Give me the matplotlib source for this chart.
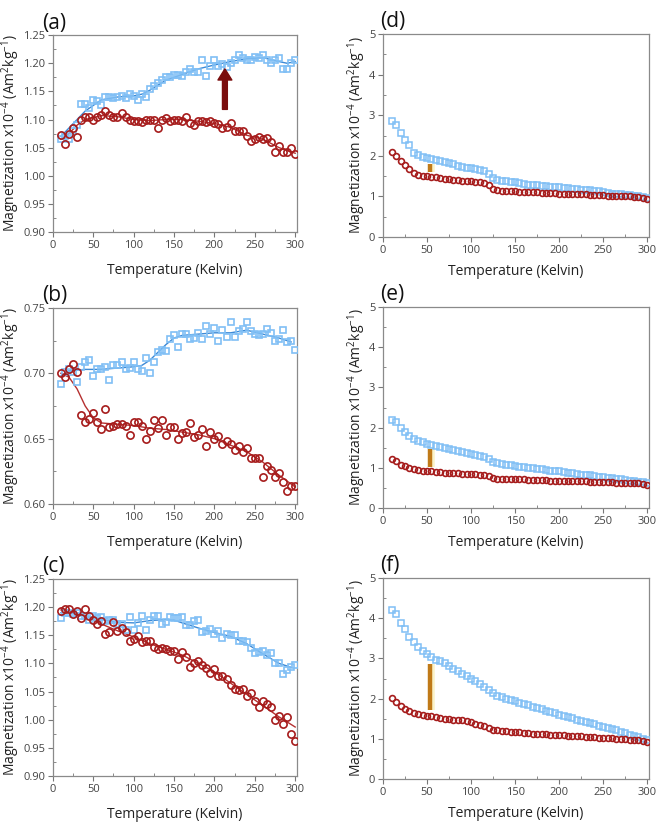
import matplotlib
matplotlib.use("Agg")
import matplotlib.pyplot as plt
from matplotlib.ticker import MultipleLocator

plt.rcParams['font.family'] = ['Open Sans', 'DejaVu Sans']
plt.rcParams['mathtext.fontset'] = 'custom'
plt.rcParams['mathtext.rm'] = 'Open Sans'
plt.rcParams['mathtext.it'] = 'Open Sans'

temps = list(range(10, 305, 5))

# ---- panel (a)
a_sq = [1.065, 1.07, 1.065, 1.08, 1.09, 1.128, 1.128, 1.12, 1.135, 1.133, 1.125, 1.14, 1.14, 1.138, 1.14,
        1.142, 1.138, 1.145, 1.142, 1.135, 1.145, 1.14, 1.155, 1.16, 1.165, 1.17, 1.175, 1.175, 1.18, 1.18,
        1.178, 1.185, 1.19, 1.185, 1.185, 1.205, 1.178, 1.195, 1.205, 1.195, 1.198, 1.193, 1.2, 1.205, 1.215,
        1.21, 1.205, 1.205, 1.212, 1.21, 1.215, 1.205, 1.2, 1.205, 1.21, 1.19, 1.19, 1.2, 1.205]
a_ci = [1.072, 1.057, 1.075, 1.085, 1.068, 1.1, 1.105, 1.105, 1.1, 1.105, 1.108, 1.115, 1.108, 1.105, 1.105,
        1.112, 1.105, 1.1, 1.098, 1.098, 1.095, 1.1, 1.1, 1.1, 1.085, 1.1, 1.102, 1.097, 1.1, 1.1,
        1.098, 1.105, 1.093, 1.09, 1.098, 1.097, 1.095, 1.098, 1.093, 1.092, 1.085, 1.087, 1.093, 1.08, 1.08,
        1.08, 1.07, 1.062, 1.065, 1.068, 1.065, 1.067, 1.06, 1.043, 1.052, 1.043, 1.043, 1.05, 1.038]
a_fit_t_sq = [10, 20, 30, 40, 50, 60, 80, 100, 110, 120, 140, 160, 180, 200, 220, 240, 260, 280, 290, 300]
a_fit_sq = [1.07, 1.085, 1.1, 1.115, 1.125, 1.135, 1.14, 1.142, 1.145, 1.152, 1.17, 1.18, 1.19, 1.197,
            1.203, 1.208, 1.21, 1.203, 1.2, 1.203]
a_fit_t_ci = [10, 20, 30, 40, 60, 80, 100, 120, 140, 160, 180, 200, 220, 240, 260, 280, 300]
a_fit_ci = [1.065, 1.075, 1.09, 1.1, 1.107, 1.105, 1.1, 1.098, 1.1, 1.1, 1.097, 1.093, 1.086, 1.072,
            1.065, 1.05, 1.04]

# ---- panel (b)
b_sq = [0.692, 0.701, 0.703, 0.701, 0.693, 0.705, 0.709, 0.71, 0.698, 0.703, 0.703, 0.705, 0.695, 0.706, 0.706,
        0.709, 0.703, 0.704, 0.709, 0.703, 0.702, 0.712, 0.7, 0.709, 0.716, 0.718, 0.717, 0.726, 0.729, 0.72,
        0.73, 0.73, 0.726, 0.727, 0.731, 0.726, 0.736, 0.73, 0.735, 0.725, 0.733, 0.728, 0.739, 0.728, 0.732,
        0.734, 0.739, 0.732, 0.73, 0.729, 0.73, 0.734, 0.731, 0.725, 0.726, 0.733, 0.724, 0.725, 0.718]
b_ci = [0.7, 0.697, 0.703, 0.707, 0.701, 0.668, 0.663, 0.665, 0.67, 0.663, 0.657, 0.673, 0.659, 0.66, 0.661,
        0.661, 0.66, 0.653, 0.663, 0.663, 0.66, 0.65, 0.656, 0.664, 0.658, 0.664, 0.653, 0.659, 0.659, 0.65,
        0.654, 0.655, 0.662, 0.651, 0.653, 0.657, 0.644, 0.655, 0.65, 0.652, 0.646, 0.648, 0.646, 0.641, 0.644,
        0.64, 0.643, 0.635, 0.635, 0.635, 0.621, 0.629, 0.626, 0.621, 0.624, 0.617, 0.61, 0.614, 0.614]
b_fit_t_sq = [10, 20, 40, 60, 80, 100, 110, 120, 130, 140, 150, 160, 180, 200, 220, 240, 260, 280, 295]
b_fit_sq = [0.698, 0.702, 0.703, 0.703, 0.704, 0.705, 0.706, 0.71, 0.716, 0.722, 0.727, 0.729, 0.73,
            0.731, 0.731, 0.733, 0.73, 0.727, 0.724]
b_fit_t_ci = [10, 20, 30, 40, 50, 60, 80, 100, 120, 140, 160, 180, 200, 220, 240, 260, 280, 300]
b_fit_ci = [0.7, 0.697, 0.688, 0.675, 0.666, 0.662, 0.661, 0.66, 0.658, 0.657, 0.655, 0.653, 0.65,
            0.645, 0.64, 0.632, 0.622, 0.613]

# ---- panel (c)
c_sq = [1.18, 1.19, 1.19, 1.188, 1.19, 1.185, 1.185, 1.178, 1.185, 1.18, 1.183, 1.175, 1.178, 1.178, 1.17,
        1.17, 1.16, 1.183, 1.16, 1.172, 1.185, 1.16, 1.178, 1.185, 1.185, 1.17, 1.173, 1.183, 1.18, 1.18,
        1.183, 1.168, 1.168, 1.175, 1.178, 1.155, 1.157, 1.162, 1.152, 1.157, 1.145, 1.153, 1.15, 1.15, 1.14,
        1.14, 1.138, 1.128, 1.118, 1.12, 1.122, 1.115, 1.118, 1.1, 1.1, 1.082, 1.088, 1.093, 1.098]
c_ci = [1.193, 1.197, 1.197, 1.188, 1.193, 1.18, 1.197, 1.185, 1.178, 1.17, 1.175, 1.153, 1.155, 1.173, 1.158,
        1.163, 1.155, 1.14, 1.143, 1.148, 1.138, 1.14, 1.14, 1.13, 1.125, 1.128, 1.125, 1.122, 1.122, 1.108,
        1.12, 1.112, 1.093, 1.1, 1.105, 1.098, 1.092, 1.083, 1.09, 1.077, 1.077, 1.073, 1.062, 1.055, 1.052,
        1.055, 1.042, 1.048, 1.033, 1.023, 1.033, 1.027, 1.023, 1.0, 1.007, 0.992, 1.005, 0.975, 0.963]
c_fit_t_sq = [10, 20, 40, 60, 80, 100, 120, 140, 150, 160, 180, 200, 220, 240, 260, 280, 295]
c_fit_sq = [1.19, 1.19, 1.185, 1.178, 1.173, 1.172, 1.176, 1.178, 1.177, 1.172, 1.163, 1.155, 1.148,
            1.135, 1.117, 1.1, 1.093]
c_fit_t_ci = [10, 20, 40, 60, 80, 100, 120, 140, 160, 180, 200, 220, 240, 260, 280, 300]
c_fit_ci = [1.195, 1.193, 1.185, 1.17, 1.158, 1.147, 1.135, 1.125, 1.115, 1.1, 1.085, 1.065, 1.045,
            1.025, 1.005, 0.987]

# ---- panel (d)
d_sq = [2.85, 2.75, 2.55, 2.38, 2.27, 2.08, 2.02, 1.98, 1.94, 1.92, 1.90, 1.88, 1.85, 1.82, 1.79,
        1.76, 1.73, 1.71, 1.69, 1.67, 1.65, 1.62, 1.55, 1.45, 1.40, 1.38, 1.37, 1.36, 1.35, 1.33,
        1.31, 1.29, 1.28, 1.27, 1.26, 1.25, 1.24, 1.23, 1.22, 1.21, 1.20, 1.19, 1.18, 1.17, 1.16,
        1.15, 1.14, 1.13, 1.10, 1.08, 1.07, 1.06, 1.05, 1.04, 1.03, 1.02, 1.00, 0.98, 0.97]
d_ci = [2.10, 2.00, 1.87, 1.77, 1.67, 1.57, 1.52, 1.51, 1.50, 1.49, 1.47, 1.45, 1.43, 1.42, 1.41,
        1.40, 1.39, 1.38, 1.37, 1.36, 1.36, 1.33, 1.27, 1.19, 1.15, 1.14, 1.14, 1.13, 1.13, 1.12,
        1.12, 1.11, 1.10, 1.10, 1.09, 1.09, 1.08, 1.08, 1.07, 1.07, 1.06, 1.06, 1.05, 1.05, 1.05,
        1.04, 1.04, 1.03, 1.03, 1.02, 1.02, 1.01, 1.01, 1.00, 1.00, 0.99, 0.98, 0.97, 0.94]
d_bar = [1.61, 1.80]

# ---- panel (e)
e_sq = [2.20, 2.15, 2.00, 1.90, 1.80, 1.72, 1.67, 1.63, 1.60, 1.57, 1.55, 1.52, 1.50, 1.47, 1.44,
        1.42, 1.40, 1.38, 1.35, 1.32, 1.29, 1.27, 1.22, 1.15, 1.12, 1.10, 1.08, 1.06, 1.05, 1.03,
        1.02, 1.00, 0.99, 0.97, 0.96, 0.95, 0.93, 0.92, 0.91, 0.89, 0.88, 0.86, 0.85, 0.83, 0.82,
        0.81, 0.79, 0.78, 0.77, 0.75, 0.74, 0.72, 0.71, 0.69, 0.68, 0.66, 0.65, 0.64, 0.62]
e_ci = [1.22, 1.17, 1.08, 1.04, 1.00, 0.96, 0.94, 0.93, 0.92, 0.91, 0.90, 0.89, 0.88, 0.87, 0.86,
        0.86, 0.85, 0.85, 0.84, 0.84, 0.83, 0.82, 0.79, 0.75, 0.73, 0.73, 0.72, 0.72, 0.72, 0.71,
        0.71, 0.70, 0.70, 0.69, 0.69, 0.69, 0.68, 0.68, 0.68, 0.67, 0.67, 0.67, 0.66, 0.66, 0.66,
        0.65, 0.65, 0.65, 0.64, 0.64, 0.64, 0.63, 0.63, 0.62, 0.62, 0.61, 0.61, 0.60, 0.58]
e_bar = [1.02, 1.48]

# ---- panel (f)
f_sq = [4.20, 4.10, 3.88, 3.72, 3.52, 3.40, 3.28, 3.18, 3.10, 3.04, 2.97, 2.93, 2.88, 2.80, 2.74,
        2.68, 2.62, 2.57, 2.50, 2.44, 2.37, 2.30, 2.22, 2.15, 2.07, 2.03, 1.99, 1.96, 1.93, 1.90,
        1.86, 1.83, 1.80, 1.77, 1.73, 1.70, 1.67, 1.63, 1.60, 1.57, 1.54, 1.51, 1.48, 1.45, 1.42,
        1.39, 1.36, 1.33, 1.30, 1.27, 1.24, 1.21, 1.18, 1.14, 1.10, 1.07, 1.04, 1.00, 0.97]
f_ci = [2.02, 1.92, 1.82, 1.73, 1.68, 1.64, 1.61, 1.59, 1.58, 1.57, 1.55, 1.52, 1.50, 1.49, 1.48,
        1.47, 1.46, 1.45, 1.42, 1.38, 1.35, 1.33, 1.28, 1.22, 1.21, 1.20, 1.19, 1.18, 1.17, 1.16,
        1.15, 1.14, 1.13, 1.13, 1.12, 1.11, 1.10, 1.10, 1.09, 1.09, 1.08, 1.07, 1.07, 1.06, 1.05,
        1.05, 1.04, 1.03, 1.03, 1.02, 1.01, 1.00, 1.00, 0.99, 0.98, 0.97, 0.96, 0.94, 0.92]
f_bar = [1.72, 2.85]

bar_t = 53

SQ_COL = '#80bff5'
CI_COL = '#a61c1c'
SQ_LINE = '#3d8ad6'
CI_LINE = '#b53030'
BAR_COL = '#c07a18'
YLABEL = 'Magnetization x10$^{-4}$ (Am$^{2}$kg$^{-1}$)'

fig = plt.figure(figsize=(6.61, 8.27), dpi=100)


def style_axes(ax, ylim, ymaj, ymin, ydec, ylab_x, xpad):
    ax.set_xlim(0, 302)
    ax.set_ylim(*ylim)
    ax.xaxis.set_major_locator(MultipleLocator(50))
    ax.xaxis.set_minor_locator(MultipleLocator(25))
    ax.yaxis.set_major_locator(MultipleLocator(ymaj))
    ax.yaxis.set_minor_locator(MultipleLocator(ymin))
    ax.yaxis.set_major_formatter(plt.FuncFormatter(lambda v, p: f'{v:.{ydec}f}'))
    for s in ax.spines.values():
        s.set_color('#8a8a8a')
        s.set_linewidth(0.9)
    ax.tick_params(which='both', top=False, right=False,
                   color='#777777', labelcolor='#444444', labelsize=8, pad=2)
    ax.tick_params(which='major', direction='out', length=3.5)
    ax.tick_params(which='minor', direction='in', length=2)
    ax.set_xlabel('Temperature (Kelvin)', fontsize=10, color='#222222', labelpad=xpad)
    ax.set_ylabel(YLABEL, fontsize=10, color='#222222')
    # label coords give the right edge of the rotated text
    ax.yaxis.set_label_coords(ylab_x, 0.5)


def left_panel(rect, label, sq, ci, ft_sq, fsq, ft_ci, fci, ylim, ymaj, ymin):
    ax = fig.add_axes(rect)
    ax.plot(ft_sq, fsq, color=SQ_LINE, lw=1.0, zorder=2)
    ax.plot(ft_ci, fci, color=CI_LINE, lw=1.0, zorder=2)
    ax.plot(temps, sq, ls='none', marker='s', ms=4.8, mfc='none', mec=SQ_COL, mew=1.2, zorder=3)
    ax.plot(temps, ci, ls='none', marker='o', ms=5.2, mfc='none', mec=CI_COL, mew=1.2, zorder=3)
    style_axes(ax, ylim, ymaj, ymin, 2, -0.125, 9)
    fig.text(rect[0] - 0.016, rect[1] + rect[3] + 0.008, label, fontsize=15, color='#111111')
    return ax


def right_panel(rect, label, sq, ci, bar):
    ax = fig.add_axes(rect)
    ax.plot([bar_t + 3, bar_t + 3], bar, color='#fbf3c8', lw=4, solid_capstyle='butt', zorder=1)
    ax.plot([bar_t, bar_t], bar, color=BAR_COL, lw=3.2, solid_capstyle='butt', zorder=2)
    ax.plot(temps, sq, ls='none', marker='s', ms=3.8, mfc='none', mec=SQ_COL, mew=1.1, zorder=3)
    ax.plot(temps, ci, ls='none', marker='o', ms=4.2, mfc='none', mec=CI_COL, mew=1.2, zorder=3)
    style_axes(ax, (0, 5), 1, 0.5, 0, -0.055, 6)
    fig.text(rect[0] - 0.005, rect[1] + rect[3] + 0.008, label, fontsize=15, color='#111111')
    return ax


ax_a = left_panel([0.080, 0.7195, 0.369, 0.238], '(a)', a_sq, a_ci, a_fit_t_sq, a_fit_sq,
                  a_fit_t_ci, a_fit_ci, (0.90, 1.25), 0.05, 0.025)
ax_a.annotate('', xy=(213, 1.19), xytext=(213, 1.118),
              arrowprops=dict(facecolor='#7a0d0d', edgecolor='#7a0d0d', width=3.5,
                              headwidth=10, headlength=8))

left_panel([0.080, 0.3906, 0.369, 0.237], '(b)', b_sq, b_ci, b_fit_t_sq, b_fit_sq,
           b_fit_t_ci, b_fit_ci, (0.60, 0.75), 0.05, 0.025)
left_panel([0.080, 0.0617, 0.369, 0.2382], '(c)', c_sq, c_ci, c_fit_t_sq, c_fit_sq,
           c_fit_t_ci, c_fit_ci, (0.90, 1.25), 0.05, 0.025)

right_panel([0.5794, 0.7134, 0.4024, 0.2455], '(d)', d_sq, d_ci, d_bar)
right_panel([0.5794, 0.3857, 0.4024, 0.2431], '(e)', e_sq, e_ci, e_bar)
right_panel([0.5794, 0.0580, 0.4024, 0.2431], '(f)', f_sq, f_ci, f_bar)

fig.savefig('out.png', dpi=100)
